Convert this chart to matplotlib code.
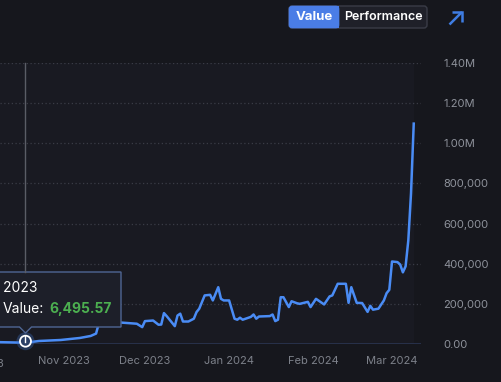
import matplotlib
matplotlib.use("Agg")
import matplotlib.pyplot as plt
import matplotlib.dates as mdates
from matplotlib.patches import FancyBboxPatch, Polygon, Circle, Rectangle
from matplotlib.lines import Line2D
import numpy as np
import datetime as dt

plt.rcParams['font.family'] = ['Inter', 'DejaVu Sans']

# ---------------- data ----------------
dates = ["2023-10-09", "2023-10-18", "2023-10-23", "2023-10-31", "2023-11-07", "2023-11-11",
         "2023-11-13", "2023-11-14", "2023-11-18", "2023-11-22", "2023-11-25", "2023-11-28",
         "2023-11-30", "2023-12-01", "2023-12-04", "2023-12-06", "2023-12-07", "2023-12-08",
         "2023-12-09", "2023-12-12", "2023-12-13", "2023-12-14", "2023-12-15", "2023-12-17",
         "2023-12-19", "2023-12-20", "2023-12-21", "2023-12-23", "2023-12-25", "2023-12-26",
         "2023-12-28", "2023-12-29", "2023-12-30", "2024-01-01", "2024-01-03", "2024-01-04",
         "2024-01-05", "2024-01-06", "2024-01-09", "2024-01-10", "2024-01-11", "2024-01-12",
         "2024-01-16", "2024-01-17", "2024-01-18", "2024-01-19", "2024-01-20", "2024-01-21",
         "2024-01-23", "2024-01-24", "2024-01-26", "2024-01-27", "2024-01-30", "2024-01-31",
         "2024-02-02", "2024-02-05", "2024-02-07", "2024-02-08", "2024-02-10", "2024-02-13",
         "2024-02-14", "2024-02-15", "2024-02-17", "2024-02-19", "2024-02-21", "2024-02-22",
         "2024-02-23", "2024-02-25", "2024-02-27", "2024-02-28", "2024-02-29", "2024-03-01",
         "2024-03-03", "2024-03-04", "2024-03-05", "2024-03-06", "2024-03-07", "2024-03-08",
         "2024-03-09"]
values = [9000, 6495.57, 15000, 20000, 30000, 40000,
          52000, 102000, 109000, 107000, 104000, 101000,
          84000, 114000, 117000, 96000, 97000, 154000,
          139000, 89000, 142000, 151000, 112000, 112000,
          126000, 159000, 176000, 242000, 245000, 217000,
          283000, 225000, 217000, 217000, 126000, 121000,
          131000, 121000, 135000, 147000, 126000, 137000,
          139000, 147000, 114000, 121000, 233000, 233000,
          184000, 213000, 203000, 200000, 210000, 184000,
          225000, 197000, 237000, 242000, 300000, 300000,
          205000, 283000, 205000, 204000, 160000, 190000,
          171000, 176000, 217000, 253000, 270000, 411000,
          408000, 396000, 357000, 387000, 516000, 751000,
          1098000]

x_tick_dates = ["2023-10-01", "2023-11-01", "2023-12-01", "2024-01-01", "2024-02-01", "2024-03-01"]
x_tick_labels = ["Oct 2023", "Nov 2023", "Dec 2023", "Jan 2024", "Feb 2024", "Mar 2024"]
y_ticks = [0, 200000, 400000, 600000, 800000, 1000000, 1200000, 1400000]
y_tick_labels = ["0.00", "200,000", "400,000", "600,000", "800,000", "1.00M", "1.20M", "1.40M"]

hover_date = "2023-10-18"
hover_label = "Oct 18, 2023"
hover_value = 6495.57

# ---------------- style ----------------
BG = "#16171d"
BG_AREA = "#191a22"
LINE = "#4a8cf5"
GRID = "#3a3c46"
TICK = "#8e929b"

W, H = 501, 382
fig = plt.figure(figsize=(W / 100, H / 100), dpi=100, facecolor=BG)

x = np.array([dt.datetime.fromisoformat(d) for d in dates])
xn = mdates.date2num(x)

# axes geometry (pixels)
ax_left, ax_right, ax_top, ax_bot = 0, 421, 63, 344
ax = fig.add_axes([ax_left / W, (H - ax_bot) / H, (ax_right - ax_left) / W, (ax_bot - ax_top) / H])
ax.set_facecolor(BG)

nov1 = mdates.date2num(dt.datetime(2023, 11, 1))
px_per_day = 2.715
xmin = nov1 + (0 - 63.5) / px_per_day
xmax = nov1 + (421 - 63.5) / px_per_day
ax.set_xlim(xmin, xmax)
ax.set_ylim(0, 1400000)

# lighter plot area up to last point
ax.axvspan(xmin, xn[-1], color=BG_AREA, zorder=0, lw=0)

for yt in y_ticks[1:]:
    ax.axhline(yt, color=GRID, lw=0.9, ls=(0, (1, 2)), zorder=1)
ax.axhline(0, color="#2a3552", lw=1.2, zorder=1)

ax.plot(xn, values, color=LINE, lw=1.8, zorder=3, solid_joinstyle='round')

for s in ax.spines.values():
    s.set_visible(False)

tick_nums = mdates.date2num([dt.datetime.fromisoformat(d) for d in x_tick_dates])
ax.set_xticks([t for t in tick_nums if xmin <= t <= xmax])
ax.set_xticklabels([l for t, l in zip(tick_nums, x_tick_labels) if xmin <= t <= xmax])
for t, l in zip(tick_nums, x_tick_labels):
    if t < xmin:
        ax.text(t, -0.055, l, transform=ax.get_xaxis_transform(), ha='center', va='top',
                color="#7d818a", fontsize=8, clip_on=False)
ax.tick_params(axis='x', length=0, pad=9, labelsize=8, labelcolor="#7d818a")

ax.yaxis.tick_right()
ax.set_yticks(y_ticks)
ax.set_yticklabels(y_tick_labels)
ax.tick_params(axis='y', length=0, pad=16, labelsize=8, labelcolor=TICK)
for lbl in ax.get_yticklabels():
    lbl.set_ha('left')

# ---------------- overlay (pixel coords) ----------------
ov = fig.add_axes([0, 0, 1, 1])
ov.set_xlim(0, W)
ov.set_ylim(H, 0)
ov.axis('off')
ov.patch.set_alpha(0)

# hover point position in pixels
hx = 63.5 + (mdates.date2num(dt.datetime.fromisoformat(hover_date)) - nov1) * px_per_day
hy = ax_bot - hover_value / 1400000 * (ax_bot - ax_top) - 1.5

# crosshair
ov.add_line(Line2D([hx, hx], [ax_top, 272], color="#5a5d66", lw=1.0))

# marker
ov.add_patch(Circle((hx, hy), 9, color="#3d6fc0", alpha=0.35, lw=0))
ov.add_patch(Circle((hx, hy), 5.5, facecolor="#2a3f66", edgecolor="white", lw=1.3))
ov.add_line(Line2D([hx, hx], [hy - 5, hy + 0.5], color="white", lw=1.0))

# tooltip
ov.add_patch(Polygon([[-10, 272], [121, 272], [121, 327], [hx + 6, 327], [hx, 333],
                      [hx - 6, 327], [-10, 327]], closed=True,
                     facecolor="#1d1f29", edgecolor="#4f6694", lw=1.0))
ov.text(37.5, 288, hover_label, color="white", fontsize=10, ha='right', va='center')
ov.text(3, 309, "Value:", color="white", fontsize=10, ha='left', va='center')
ov.text(49, 309, f"{hover_value:,.2f}", color="#4caf50", fontsize=10, ha='left',
        va='center', fontweight='bold')

# buttons
ov.add_patch(FancyBboxPatch((289, 6), 138, 22, boxstyle="round,pad=0,rounding_size=3",
                            facecolor="#1f2029", edgecolor="#3a3c47", lw=1.0))
ov.add_patch(FancyBboxPatch((289, 6), 50, 22, boxstyle="round,pad=0,rounding_size=3",
                            facecolor="#4a7de6", edgecolor="#4a7de6", lw=0.5))
ov.add_patch(Rectangle((333, 6), 6, 22, facecolor="#4a7de6", lw=0))
ov.text(314, 17.5, "Value", color="white", fontsize=9.5, fontweight='bold', ha='center', va='center')
ov.text(383, 17.5, "Performance", color="white", fontsize=9, fontweight='semibold',
        ha='center', va='center')

# arrow icon
ov.add_line(Line2D([449.5, 462], [24.5, 12], color="#3f7de3", lw=1.8, solid_capstyle='butt'))
ov.add_line(Line2D([452.5, 462, 462], [12, 12, 21.5], color="#3f7de3", lw=1.8,
                   solid_capstyle='butt', solid_joinstyle='miter'))

fig.savefig("out.png", dpi=100, facecolor=BG)
